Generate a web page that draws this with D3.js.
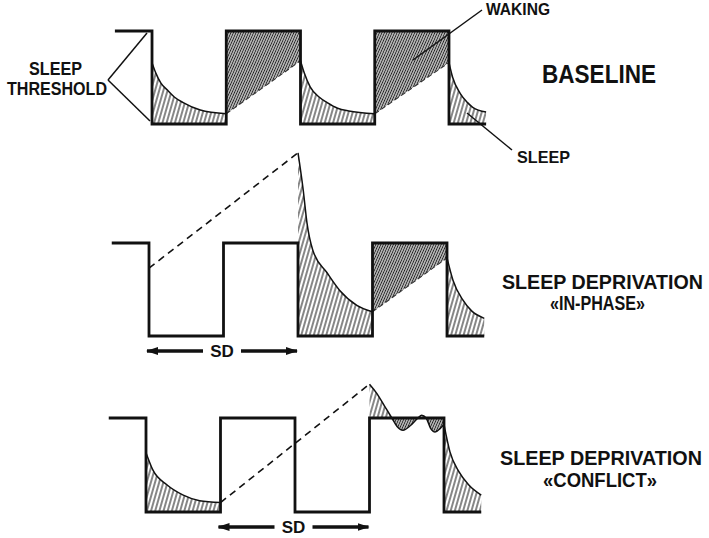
<!DOCTYPE html>
<html>
<head>
<meta charset="utf-8">
<script src="https://cdn.jsdelivr.net/npm/d3@7"></script>
<style>
  html, body { margin: 0; padding: 0; background: #fff; }
  svg { display: block; }
  text { font-family: "Liberation Sans", Arial, sans-serif; font-weight: bold; fill: #111; white-space: pre; }
</style>
</head>
<body>
<svg id="chart"></svg>
<script>
// phases of the cycle, time in half-days (wake / sleep)
const phases = ["wake", "sleep", "wake", "sleep", "wake", "sleep"];
const phaseEdges = [-0.5, 0, 1, 2, 3, 4, 4.5];
const thresholdUpper = 1;
const thresholdLower = 0;

// baseline: process S, [t, S]
const baseSleep1 = [[0, 0.66], [0.05, 0.55], [0.12, 0.44], [0.2, 0.37], [0.3, 0.29], [0.42, 0.23], [0.65, 0.15], [1, 0.11]];
const baseWake1 = [[1, 0.11], [2, 0.68]];
const baseSleep2 = [[2, 0.68], [2.05, 0.55], [2.13, 0.40], [2.25, 0.29], [2.36, 0.23], [2.5, 0.17], [2.65, 0.14], [3, 0.11]];
const baseWake2 = [[3, 0.11], [4, 0.66]];
const baseSleep3 = [[4, 0.66], [4.05, 0.5], [4.15, 0.33], [4.25, 0.23], [4.32, 0.18], [4.5, 0.13]];

// sleep deprivation "in-phase"
const ipDeprived = [[0, 0.73], [2, 1.97]];
const ipSleep1 = [[2, 1.97], [2.07, 1.57], [2.12, 1.22], [2.2, 0.92], [2.39, 0.68], [2.56, 0.49], [2.79, 0.33], [3, 0.26]];
const ipWake = [[3, 0.26], [4, 0.84]];
const ipSleep2 = [[4, 0.84], [4.08, 0.6], [4.21, 0.39], [4.33, 0.27], [4.5, 0.19]];

// sleep deprivation "conflict"
const cfSleep1 = [[0, 0.63], [0.09, 0.45], [0.28, 0.29], [0.5, 0.18], [0.72, 0.12], [1, 0.1]];
const cfDeprived = [[1, 0.1], [3, 1.36]];
const cfRecovery = [[3, 1.36], [3.1, 1.26], [3.2, 1.13], [3.3, 1.0], [3.37, 0.91], [3.45, 0.87], [3.55, 0.92],
                    [3.65, 1.0], [3.7, 1.03], [3.76, 1.0], [3.82, 0.89], [3.88, 0.85], [3.95, 0.89], [4, 0.93]];
const cfSleep2 = [[4, 0.93], [4.08, 0.64], [4.2, 0.43], [4.33, 0.29], [4.5, 0.18]];

const panels = [
    { id: "base", xr: [114.9, 486.1], yr: [124, 31],
      segs: [["sleep", baseSleep1], ["wake", baseWake1], ["sleep", baseSleep2], ["wake", baseWake2], ["sleep", baseSleep3]] },
    { id: "inphase", xr: [111.75, 484.25], yr: [336, 243], sd: [0, 2],
      segs: [["sd", ipDeprived], ["sleep", ipSleep1], ["wake", ipWake], ["sleep", ipSleep2]] },
    { id: "conflict", xr: [108.75, 481.25], yr: [512, 418], sd: [1, 3],
      segs: [["sleep", cfSleep1], ["sd", cfDeprived], ["recovery", cfRecovery], ["sleep", cfSleep2]] }
];

const width = 709, height = 538;
const svg = d3.select("#chart").attr("width", width).attr("height", height);
const defs = svg.append("defs");

// hatching
const pSleep = defs.append("pattern").attr("id", "hSleep")
    .attr("patternUnits", "userSpaceOnUse").attr("width", 4).attr("height", 10)
    .attr("patternTransform", "rotate(16)");
pSleep.append("line").attr("x1", 2).attr("x2", 2).attr("y1", 0).attr("y2", 10)
    .attr("stroke", "#222").attr("stroke-width", 1.1);
const pWake = defs.append("pattern").attr("id", "hWake")
    .attr("patternUnits", "userSpaceOnUse").attr("width", 2.3).attr("height", 10)
    .attr("patternTransform", "rotate(24)");
pWake.append("line").attr("x1", 1.15).attr("x2", 1.15).attr("y1", 0).attr("y2", 10)
    .attr("stroke", "#222").attr("stroke-width", 1.3);

const arrowHead = defs.append("marker").attr("id", "arrow")
    .attr("viewBox", "0 0 12 8").attr("refX", 11).attr("refY", 4)
    .attr("markerWidth", 12).attr("markerHeight", 8)
    .attr("markerUnits", "userSpaceOnUse").attr("orient", "auto");
arrowHead.append("path").attr("d", "M0,0 L12,4 L0,8 Z").attr("fill", "#111");

panels.forEach(p => {
    const x = d3.scaleLinear().domain([phaseEdges[0], phaseEdges[phaseEdges.length - 1]]).range(p.xr);
    const y = d3.scaleLinear().domain([thresholdLower, thresholdUpper]).range(p.yr);
    const g = svg.append("g").attr("class", p.id);

    const sLine = d3.line().x(d => x(d[0])).y(d => y(d[1])).curve(d3.curveMonotoneX);

    // clip above / below the upper threshold for the recovery curve
    defs.append("clipPath").attr("id", p.id + "-above")
        .append("rect").attr("x", 0).attr("y", 0).attr("width", width).attr("height", y(thresholdUpper));
    defs.append("clipPath").attr("id", p.id + "-below")
        .append("rect").attr("x", 0).attr("y", y(thresholdUpper)).attr("width", width).attr("height", height);

    p.segs.forEach(([kind, pts]) => {
        if (kind === "sleep") {
            g.append("path").datum(pts)
                .attr("d", d3.area().x(d => x(d[0])).y0(y(thresholdLower)).y1(d => y(d[1])).curve(d3.curveMonotoneX))
                .attr("fill", "url(#hSleep)");
            g.append("path").datum(pts).attr("d", sLine)
                .attr("fill", "none").attr("stroke", "#111").attr("stroke-width", 1.5);
        } else if (kind === "wake") {
            g.append("path").datum(pts)
                .attr("d", d3.area().x(d => x(d[0])).y0(y(thresholdUpper)).y1(d => y(d[1])))
                .attr("fill", "url(#hWake)");
            g.append("path").datum(pts).attr("d", d3.line().x(d => x(d[0])).y(d => y(d[1])))
                .attr("fill", "none").attr("stroke", "#333").attr("stroke-width", 1.1)
                .attr("stroke-dasharray", "5,3");
        } else if (kind === "sd") {
            g.append("path").datum(pts).attr("d", d3.line().x(d => x(d[0])).y(d => y(d[1])))
                .attr("fill", "none").attr("stroke", "#111").attr("stroke-width", 1.6)
                .attr("stroke-dasharray", "7,5");
        } else if (kind === "recovery") {
            const a = d3.area().x(d => x(d[0])).y0(y(thresholdUpper)).y1(d => y(d[1])).curve(d3.curveMonotoneX);
            g.append("path").datum(pts).attr("d", a).attr("fill", "url(#hSleep)")
                .attr("clip-path", `url(#${p.id}-above)`);
            g.append("path").datum(pts).attr("d", a).attr("fill", "url(#hWake)")
                .attr("clip-path", `url(#${p.id}-below)`);
            g.append("path").datum(pts).attr("d", sLine)
                .attr("fill", "none").attr("stroke", "#111").attr("stroke-width", 1.5);
        }
    });

    // sleep threshold (square wave)
    const thr = [];
    phases.forEach((ph, i) => {
        const lv = ph === "wake" ? thresholdUpper : thresholdLower;
        thr.push([phaseEdges[i], lv], [phaseEdges[i + 1], lv]);
    });
    g.append("path").datum(thr)
        .attr("d", d3.line().x(d => x(d[0])).y(d => y(d[1])))
        .attr("fill", "none").attr("stroke", "#111").attr("stroke-width", 2.8)
        .attr("stroke-linejoin", "miter");

    // SD arrow
    if (p.sd) {
        const x0 = x(p.sd[0]) - 2, x1 = x(p.sd[1]) - 1;
        const mid = (x0 + x1) / 2;
        const ay = y(thresholdLower) + 15;
        g.append("line").attr("x1", mid - 19).attr("x2", x0).attr("y1", ay).attr("y2", ay)
            .attr("stroke", "#111").attr("stroke-width", 3.5).attr("marker-end", "url(#arrow)");
        g.append("line").attr("x1", mid + 19).attr("x2", x1).attr("y1", ay).attr("y2", ay)
            .attr("stroke", "#111").attr("stroke-width", 3.5).attr("marker-end", "url(#arrow)");
        g.append("text").attr("x", mid).attr("y", ay + 6).attr("text-anchor", "middle")
            .attr("font-size", 17).text("SD");
    }
});

// labels
function label(txt, x, y, size, len) {
    svg.append("text").attr("x", x).attr("y", y).attr("font-size", size)
        .attr("xml:space", "preserve")
        .attr("textLength", len).attr("lengthAdjust", "spacingAndGlyphs").text(txt);
}
function leader(x1, y1, x2, y2) {
    svg.append("line").attr("x1", x1).attr("y1", y1).attr("x2", x2).attr("y2", y2)
        .attr("stroke", "#111").attr("stroke-width", 1.5);
}

label("SLEEP", 29, 75, 18, 53);
label("THRESHOLD", 7, 95, 18, 100);
leader(108, 80, 147, 33);
leader(108, 80, 150, 121);

label("WAKING", 486, 15, 16, 64);
leader(482, 10, 413, 60);
label("BASELINE", 542, 83, 25, 114);
label("SLEEP", 517, 163, 17, 53);
leader(467, 113, 512, 150);

label("SLEEP DEPRIVATION", 502, 289, 19.5, 201);
label("«IN-PHASE»", 550, 310, 21, 95);
label("SLEEP DEPRIVATION", 500, 465, 19.5, 202);
label("«CONFLICT»", 543, 487, 20, 114);
</script>
</body>
</html>
